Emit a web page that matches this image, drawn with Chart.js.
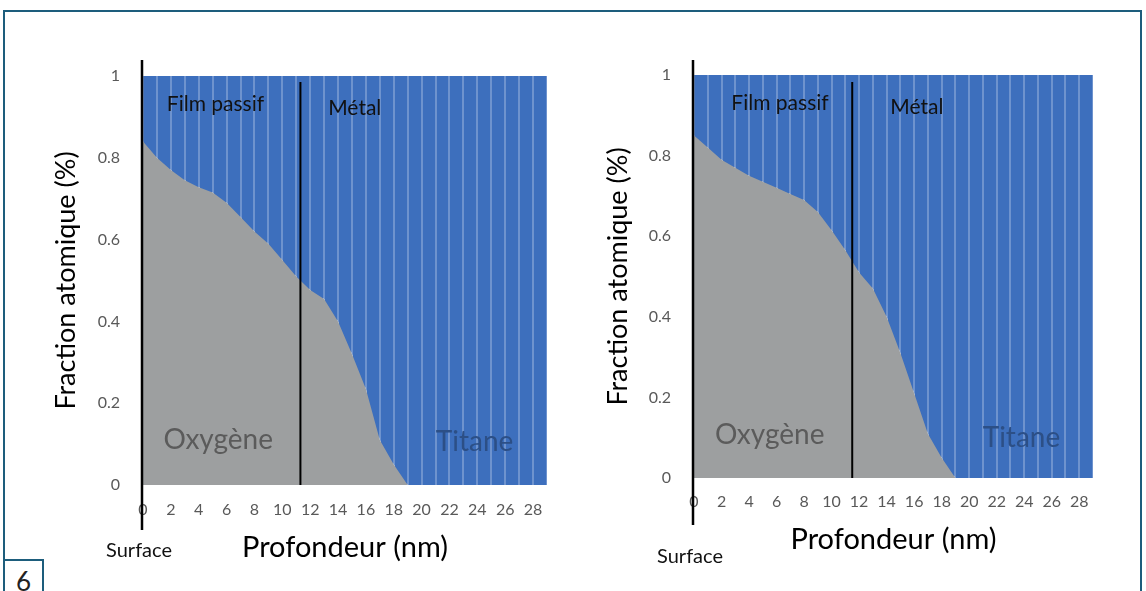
<!DOCTYPE html>
<html>
<head>
<meta charset="utf-8">
<script src="https://cdn.jsdelivr.net/npm/chart.js@4.4.0/dist/chart.umd.min.js"></script>
<style>
  body { margin: 0; width: 1146px; height: 591px; overflow: hidden; position: relative; background: #fff; font-family: Lato, sans-serif; }
  #frame { position: absolute; left: 3px; top: 10px; width: 1139px; height: 620px; border: 2px solid #1d5d7c; box-sizing: border-box; }
  #num { position: absolute; left: 3px; top: 559px; width: 41px; height: 50px; border: 2px solid #1d5d7c; box-sizing: border-box;
         font: 26px Lato, sans-serif; color: #222; text-align: center; line-height: 40px; }
  canvas { position: absolute; top: 0; }
</style>
</head>
<body>
<div id="frame"></div>
<div id="num">6</div>
<canvas id="left" width="573" height="591" style="left:0"></canvas>
<canvas id="right" width="573" height="591" style="left:573px"></canvas>
<script>
// depth in nm (category points of the area chart)
const depth = [0, 1, 2, 3, 4, 5, 6, 7, 8, 9, 10, 11, 12, 13, 14, 15, 16, 17, 18, 19, 20, 21, 22, 23, 24, 25, 26, 27, 28, 29];

// left profile
const oxygenLeft = [0.84, 0.80, 0.77, 0.745, 0.728, 0.715, 0.69, 0.655, 0.62, 0.59, 0.55, 0.51, 0.477, 0.455, 0.40, 0.32, 0.235, 0.11, 0.05, 0, 0, 0, 0, 0, 0, 0, 0, 0, 0, 0];
const titaneLeft = [0.16, 0.20, 0.23, 0.255, 0.272, 0.285, 0.31, 0.345, 0.38, 0.41, 0.45, 0.49, 0.523, 0.545, 0.60, 0.68, 0.765, 0.89, 0.95, 1, 1, 1, 1, 1, 1, 1, 1, 1, 1, 1];

// right profile
const oxygenRight = [0.85, 0.82, 0.79, 0.77, 0.75, 0.735, 0.72, 0.705, 0.69, 0.66, 0.615, 0.565, 0.51, 0.47, 0.40, 0.31, 0.21, 0.11, 0.05, 0, 0, 0, 0, 0, 0, 0, 0, 0, 0, 0];
const titaneRight = [0.15, 0.18, 0.21, 0.23, 0.25, 0.265, 0.28, 0.295, 0.31, 0.34, 0.385, 0.435, 0.49, 0.53, 0.60, 0.69, 0.79, 0.89, 0.95, 1, 1, 1, 1, 1, 1, 1, 1, 1, 1, 1];

// film / metal boundary depth
const boundaryLeft = 11.3;
const boundaryRight = 11.5;

const xTickLabels = [0, 2, 4, 6, 8, 10, 12, 14, 16, 18, 20, 22, 24, 26, 28];
const yTickLabels = [0, 0.2, 0.4, 0.6, 0.8, 1];

const BLUE = '#3d6fbd';
const GREY = '#9d9fa0';
const FONT = 'Lato, sans-serif';

// paints the plot area so the grid shows as pale stripes through the titanium fill
const areaBg = {
    id: 'areaBg',
    beforeDraw(chart) {
        const { ctx, chartArea: a } = chart;
        ctx.save();
        ctx.fillStyle = BLUE;
        ctx.fillRect(a.left, a.top, a.right - a.left, a.bottom - a.top);
        ctx.restore();
    }
};

// surface line, boundary line and the text inside the plot
const marks = {
    id: 'marks',
    afterDraw(chart, args, o) {
        const { ctx, scales: { x, y } } = chart;
        ctx.save();
        ctx.strokeStyle = '#000';
        ctx.lineWidth = 2.5;
        const x0 = x.getPixelForValue(0);
        ctx.beginPath();
        ctx.moveTo(x0 - 1, o.surfaceTop);
        ctx.lineTo(x0 - 1, o.surfaceBottom);
        ctx.stroke();

        ctx.lineWidth = 2;
        const xb = x.getPixelForValue(o.boundary);
        ctx.beginPath();
        ctx.moveTo(xb, o.boundaryTop);
        ctx.lineTo(xb, y.getPixelForValue(0));
        ctx.stroke();

        ctx.textAlign = 'center';
        ctx.textBaseline = 'middle';
        ctx.fillStyle = '#111';
        ctx.font = '20px ' + FONT;
        ctx.fillText('Surface', x0 - 4, o.surfaceY);

        o.texts.forEach(t => {
            ctx.font = t.size + 'px ' + FONT;
            ctx.fillStyle = t.color;
            ctx.fillText(t.text, x.getPixelForValue(t.x), y.getPixelForValue(t.y));
        });
        ctx.restore();
    }
};

function makeChart(id, oxygen, titane, opt) {
    return new Chart(document.getElementById(id), {
        type: 'line',
        data: {
            datasets: [
                {
                    label: 'Oxygène',
                    data: depth.map((d, i) => ({ x: d, y: oxygen[i] })),
                    backgroundColor: GREY,
                    borderWidth: 0,
                    pointRadius: 0,
                    fill: 'origin'
                },
                {
                    label: 'Titane',
                    data: depth.map((d, i) => ({ x: d, y: titane[i] })),
                    backgroundColor: 'rgba(61, 111, 189, 0.75)',
                    borderWidth: 0,
                    pointRadius: 0,
                    fill: '-1'
                }
            ]
        },
        options: {
            responsive: false,
            animation: false,
            layout: { padding: opt.padding },
            plugins: {
                legend: { display: false },
                tooltip: { enabled: false },
                marks: opt.marks
            },
            scales: {
                x: {
                    type: 'linear',
                    min: 0,
                    max: 29,
                    grid: { color: '#ffffff', lineWidth: 2, drawTicks: false },
                    border: { display: false },
                    ticks: {
                        stepSize: 1,
                        autoSkip: false,
                        maxRotation: 0,
                        padding: opt.xTickPad,
                        color: '#595959',
                        font: { family: FONT, size: 16 },
                        callback: v => xTickLabels.includes(v) ? String(v) : ''
                    },
                    title: {
                        display: true,
                        text: 'Profondeur (nm)',
                        color: '#000',
                        font: { family: FONT, size: 29 },
                        padding: { top: 0, bottom: opt.xTitlePad }
                    },
                    afterFit: s => { s.height = opt.xHeight; }
                },
                y: {
                    stacked: true,
                    min: 0,
                    max: 1,
                    grid: { display: false },
                    border: { display: false },
                    ticks: {
                        stepSize: 0.2,
                        padding: 15,
                        color: '#595959',
                        font: { family: FONT, size: 16 },
                        callback: v => {
                            const t = yTickLabels.find(k => Math.abs(k - v) < 1e-6);
                            return t === undefined ? '' : String(t);
                        }
                    },
                    title: {
                        display: true,
                        text: 'Fraction atomique (%)',
                        color: '#000',
                        font: { family: FONT, size: 27 },
                        padding: { top: opt.yTitlePad, bottom: 0 }
                    },
                    afterFit: s => { s.width = opt.yWidth; }
                }
            }
        },
        plugins: [areaBg, marks]
    });
}

makeChart('left', oxygenLeft, titaneLeft, {
    padding: { top: 76, right: 26, left: 0, bottom: 0 },
    xHeight: 106, yWidth: 143, xTickPad: 15, xTitlePad: 26, yTitlePad: 50,
    marks: {
        boundary: boundaryLeft, boundaryTop: 82, surfaceTop: 60, surfaceBottom: 530, surfaceY: 551,
        texts: [
            { text: 'Film passif', x: 5.2, y: 0.93, size: 21, color: '#111' },
            { text: 'Métal', x: 15.2, y: 0.92, size: 21, color: '#111' },
            { text: 'Oxygène', x: 5.4, y: 0.11, size: 28, color: '#5b5b5b' },
            { text: 'Titane', x: 23.8, y: 0.105, size: 28, color: '#2c4f86' }
        ]
    }
});

makeChart('right', oxygenRight, titaneRight, {
    padding: { top: 75, right: 53, left: 0, bottom: 0 },
    xHeight: 113, yWidth: 121, xTickPad: 14, xTitlePad: 34, yTitlePad: 29,
    marks: {
        boundary: boundaryRight, boundaryTop: 82, surfaceTop: 60, surfaceBottom: 525, surfaceY: 557,
        texts: [
            { text: 'Film passif', x: 6.25, y: 0.93, size: 21, color: '#111' },
            { text: 'Métal', x: 16.2, y: 0.92, size: 21, color: '#111' },
            { text: 'Oxygène', x: 5.5, y: 0.107, size: 28, color: '#5b5b5b' },
            { text: 'Titane', x: 23.8, y: 0.10, size: 28, color: '#2c4f86' }
        ]
    }
});
</script>
</body>
</html>
